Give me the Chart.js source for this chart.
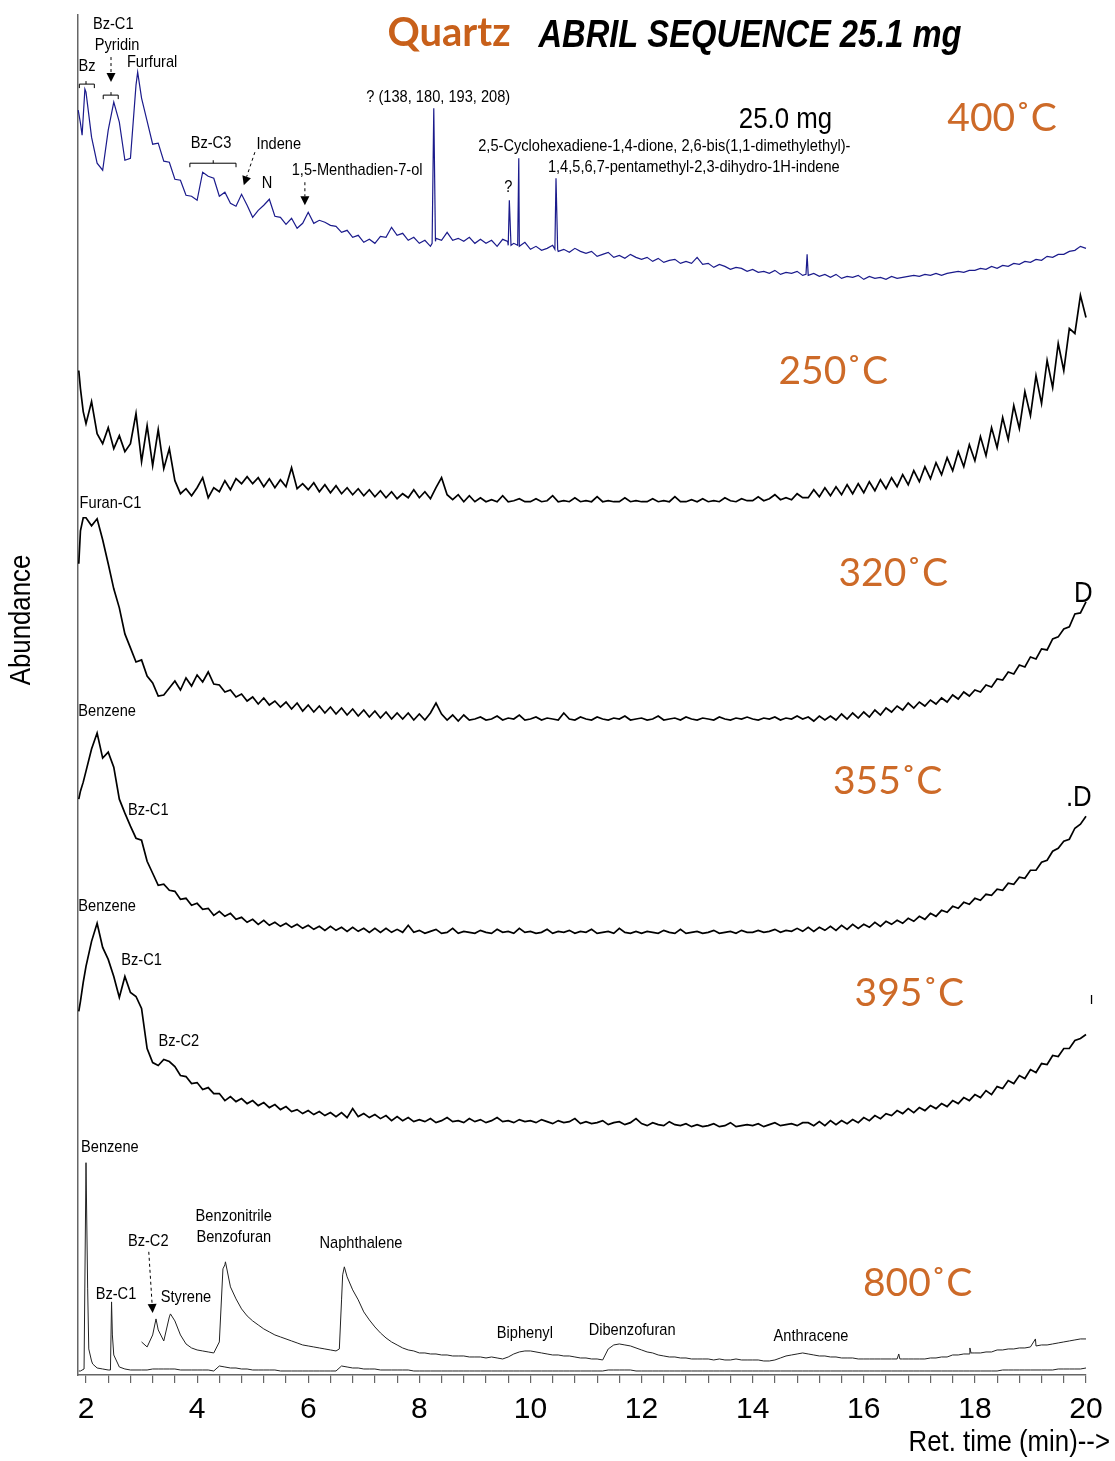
<!DOCTYPE html>
<html>
<head>
<meta charset="utf-8">
<script src="https://cdn.jsdelivr.net/npm/chart.js@4.4.1/dist/chart.umd.min.js"></script>
<style>
  html, body { margin: 0; padding: 0; background: #fff; }
  #wrap { position: relative; width: 1115px; height: 1461px; }
</style>
</head>
<body>
<div id="wrap"><canvas id="chart" width="1115" height="1461"></canvas></div>
<script>
// --- Data (retention time in min, abundance in arbitrary stacked units) ---
const retTime = [
  2.0, 2.1, 2.2, 2.3, 2.4, 2.5, 2.6, 2.7, 2.8, 2.9,
  3.0, 3.1, 3.2, 3.3, 3.4, 3.5, 3.6, 3.7, 3.8, 3.9,
  4.0, 4.1, 4.2, 4.3, 4.4, 4.5, 4.6, 4.7, 4.8, 4.9,
  5.0, 5.1, 5.2, 5.3, 5.4, 5.5, 5.6, 5.7, 5.8, 5.9,
  6.0, 6.1, 6.2, 6.3, 6.4, 6.5, 6.6, 6.7, 6.8, 6.9,
  7.0, 7.1, 7.2, 7.3, 7.4, 7.5, 7.6, 7.7, 7.8, 7.9,
  8.0, 8.1, 8.2, 8.3, 8.4, 8.5, 8.6, 8.7, 8.8, 8.9,
  9.0, 9.1, 9.2, 9.3, 9.4, 9.5, 9.6, 9.7, 9.8, 9.9,
  10.0, 10.1, 10.2, 10.3, 10.4, 10.5, 10.6, 10.7, 10.8, 10.9,
  11.0, 11.1, 11.2, 11.3, 11.4, 11.5, 11.6, 11.7, 11.8, 11.9,
  12.0, 12.1, 12.2, 12.3, 12.4, 12.5, 12.6, 12.7, 12.8, 12.9,
  13.0, 13.1, 13.2, 13.3, 13.4, 13.5, 13.6, 13.7, 13.8, 13.9,
  14.0, 14.1, 14.2, 14.3, 14.4, 14.5, 14.6, 14.7, 14.8, 14.9,
  15.0, 15.1, 15.2, 15.3, 15.4, 15.5, 15.6, 15.7, 15.8, 15.9,
  16.0, 16.1, 16.2, 16.3, 16.4, 16.5, 16.6, 16.7, 16.8, 16.9,
  17.0, 17.1, 17.2, 17.3, 17.4, 17.5, 17.6, 17.7, 17.8, 17.9,
  18.0, 18.1, 18.2, 18.3, 18.4, 18.5, 18.6, 18.7, 18.8, 18.9,
  19.0, 19.1, 19.2, 19.3, 19.4, 19.5, 19.6, 19.7, 19.8, 19.9,
  20.0
];

// 400 C run (blue)
const abund400 = [
  1281, 1236, 1210, 1203, 1243, 1271, 1251, 1213, 1215, 1288,
  1275, 1252, 1229, 1230, 1212, 1211, 1194, 1193, 1178, 1177,
  1173, 1201, 1197, 1195, 1177, 1181, 1170, 1167, 1179, 1168,
  1156, 1163, 1168, 1174, 1157, 1156, 1149, 1155, 1145, 1150,
  1161, 1150, 1153, 1151, 1148, 1147, 1141, 1143, 1136, 1138,
  1131, 1134, 1130, 1137, 1136, 1146, 1138, 1140, 1133, 1136,
  1130, 1133, 1127, 1135, 1133, 1141, 1133, 1135, 1132, 1136,
  1130, 1134, 1130, 1133, 1127, 1134, 1128, 1130, 1127, 1131,
  1124, 1127, 1123, 1125, 1128, 1122, 1124, 1121, 1125, 1122,
  1120, 1122, 1117, 1119, 1121, 1116, 1118, 1115, 1119, 1116,
  1114, 1116, 1112, 1115, 1111, 1113, 1114, 1110, 1112, 1110,
  1116, 1109, 1110, 1106, 1109, 1107, 1104, 1106, 1105, 1102,
  1104, 1101, 1102, 1100, 1103, 1099, 1101, 1100, 1102, 1098,
  1098, 1100, 1097, 1099, 1096, 1099, 1095, 1097, 1096, 1098,
  1094, 1097, 1095, 1096, 1094, 1097, 1095, 1096, 1097, 1098,
  1097, 1099, 1098, 1100, 1098, 1100, 1101, 1102, 1101, 1103,
  1103, 1105, 1104, 1107, 1105, 1108, 1107, 1110, 1109, 1112,
  1111, 1114, 1113, 1117, 1116, 1119, 1119, 1122, 1123, 1127,
  1125
];
const peaks400 = [
  [1.86, 1263], [1.9, 1250], [1.93, 1238], [1.98, 1284], [2.93, 1301],
  [8.23, 1130], [8.26, 1265], [8.29, 1132],
  [9.59, 1132], [9.62, 1173], [9.65, 1128],
  [9.77, 1128], [9.79, 1215],
  [10.44, 1124], [10.46, 1195], [10.49, 1124],
  [14.96, 1099], [14.98, 1119]
];

// 250 C run
const abund250 = [
  950, 972, 940, 930, 946, 925, 938, 922, 930, 960,
  912, 948, 908, 944, 905, 925, 893, 880, 885, 878,
  886, 896, 876, 886, 882, 893, 884, 895, 890, 897,
  890, 896, 887, 895, 886, 894, 887, 906, 885, 890,
  884, 891, 882, 889, 881, 888, 880, 886, 879, 885,
  878, 884, 877, 883, 876, 882, 875, 880, 876, 884,
  876, 882, 875, 886, 896, 879, 874, 879, 872, 878,
  872, 876, 872, 874, 872, 878, 872, 873, 875, 872,
  872, 875, 872, 873, 878, 872, 873, 872, 876, 872,
  873, 872, 877, 872, 873, 872, 872, 876, 872, 873,
  872, 872, 875, 872, 873, 872, 877, 872, 872, 874,
  872, 875, 872, 873, 872, 876, 873, 872, 875, 873,
  873, 877, 873, 875, 879, 874, 876, 874, 880, 876,
  876, 884, 877, 886, 878, 887, 879, 889, 880, 890,
  881, 892, 883, 894, 885, 896, 887, 899, 889, 903,
  892, 907, 895, 911, 899, 916, 903, 922, 907, 929,
  913, 937, 918, 946, 926, 956, 934, 968, 945, 982,
  958, 998, 970, 1013, 986, 1030, 1003, 1045, 1040, 1078,
  1056
];
const peaks250 = [[1.87, 1003], [1.9, 985], [1.95, 962]];

// 320 C run
const abund320 = [
  856, 848, 855, 834, 810, 785, 766, 740, 726, 712,
  714, 698, 691, 678, 679, 686, 693, 684, 696, 688,
  699, 692, 702, 690, 689, 682, 684, 677, 680, 673,
  677, 670, 676, 669, 673, 667, 672, 665, 671, 663,
  669, 662, 668, 661, 667, 660, 666, 659, 665, 658,
  664, 657, 663, 656, 662, 655, 661, 655, 661, 654,
  660, 654, 661, 671, 660, 654, 659, 653, 659, 654,
  655, 657, 654, 655, 658, 654, 656, 655, 659, 654,
  655, 657, 654, 656, 655, 654, 661, 655, 654, 657,
  655, 654, 657, 655, 654, 656, 655, 658, 654, 655,
  656, 654, 655, 658, 654, 655, 656, 654, 657, 655,
  654, 656, 655, 654, 657, 655, 654, 656, 655, 657,
  655, 654, 656, 655, 657, 654, 656, 655, 658, 655,
  657, 653, 658, 654, 658, 654, 660, 655, 661, 656,
  662, 657, 664, 659, 666, 662, 668, 664, 671, 666,
  672, 668, 674, 670, 676, 672, 679, 675, 682, 678,
  684, 682, 689, 687, 695, 694, 702, 700, 709, 707,
  717, 715, 725, 724, 735, 737, 745, 747, 760, 761,
  772
];
const peaks320 = [[1.87, 810], [1.9, 843], [1.95, 856]];

// 355 C run
const abund355 = [
  603, 625, 641, 616, 622, 607, 575, 561, 548, 536,
  534, 513, 501, 489, 490, 484, 483, 475, 476, 469,
  471, 465, 466, 459, 463, 458, 461, 455, 457, 452,
  455, 450, 454, 449, 452, 448, 451, 447, 450, 446,
  449, 445, 448, 444, 448, 444, 447, 443, 447, 443,
  446, 442, 446, 442, 446, 442, 445, 442, 449, 442,
  444, 441, 443, 445, 441, 442, 446, 441, 443, 442,
  441, 444, 442, 441, 445, 442, 443, 441, 446, 442,
  443, 441, 442, 445, 441, 443, 442, 444, 441, 443,
  442, 445, 441, 442, 443, 441, 446, 442, 441, 443,
  441, 443, 442, 441, 444, 442, 441, 445, 441, 442,
  443, 441, 442, 444, 441, 442, 443, 441, 444, 442,
  442, 444, 442, 443, 445, 442, 444, 443, 446, 443,
  447, 443, 447, 444, 448, 444, 449, 445, 450, 446,
  450, 447, 452, 448, 453, 450, 454, 451, 456, 453,
  458, 455, 461, 458, 464, 462, 468, 466, 472, 470,
  476, 474, 480, 479, 485, 484, 491, 490, 497, 496,
  504, 504, 512, 514, 523, 526, 533, 535, 546, 550,
  558
];
const peaks355 = [[1.87, 575], [1.9, 583], [1.95, 592]];

// 395 C run
const abund395 = [
  408, 433, 451, 427, 415, 398, 377, 398, 382, 378,
  366, 326, 312, 309, 315, 313, 308, 299, 298, 291,
  292, 285, 287, 281, 281, 274, 278, 273, 276, 271,
  274, 269, 272, 267, 270, 265, 268, 263, 265, 261,
  264, 260, 263, 259, 262, 258, 262, 257, 266, 258,
  261, 257, 260, 256, 259, 254, 258, 254, 257, 253,
  255, 253, 256, 252, 254, 257, 253, 254, 252, 256,
  253, 255, 252, 254, 257, 253, 254, 252, 255, 253,
  254, 252, 255, 253, 251, 254, 252, 253, 256, 251,
  253, 251, 252, 254, 250, 252, 253, 250, 252, 256,
  251, 249, 252, 250, 249, 253, 250, 249, 251, 248,
  250, 248, 249, 251, 248, 249, 252, 248, 249, 250,
  249, 251, 248, 250, 252, 249, 250, 251, 249, 252,
  252, 249, 253, 249, 254, 250, 254, 251, 255, 252,
  257, 254, 259, 256, 261, 259, 264, 261, 266, 262,
  267, 264, 269, 266, 271, 268, 274, 271, 277, 274,
  280, 277, 284, 280, 288, 286, 294, 291, 299, 296,
  305, 302, 311, 310, 319, 318, 326, 326, 334, 336,
  340
];
const peaks395 = [[1.87, 363], [1.9, 373], [1.95, 392]];

// 800 C run, full scale
const abund800 = [
  212, 14, 7, 6, 5, 20, 8, 6, 5, 5,
  5, 5, 6, 6, 6, 6, 6, 5, 5, 5,
  5, 5, 5, 4, 9, 8, 7, 7, 6, 6,
  5, 5, 5, 5, 5, 4, 4, 4, 4, 4,
  4, 4, 4, 4, 4, 4, 9, 8, 7, 7,
  6, 6, 6, 5, 5, 5, 5, 5, 5, 4,
  4, 4, 4, 4, 4, 4, 4, 4, 4, 4,
  4, 4, 4, 4, 4, 4, 4, 4, 4, 4,
  4, 4, 4, 4, 4, 4, 4, 4, 4, 4,
  4, 4, 4, 4, 5, 5, 5, 5, 5, 4,
  4, 4, 4, 4, 4, 4, 4, 4, 4, 4,
  4, 4, 4, 4, 4, 4, 4, 4, 4, 4,
  4, 4, 4, 4, 4, 4, 4, 4, 4, 4,
  4, 4, 4, 4, 4, 4, 4, 4, 4, 4,
  4, 4, 4, 4, 4, 4, 4, 4, 4, 4,
  4, 4, 4, 4, 4, 4, 4, 4, 4, 4,
  4, 4, 4, 4, 4, 5, 5, 5, 5, 5,
  5, 5, 5, 5, 5, 6, 6, 6, 6, 6,
  7
];
const peaks800 = [
  [1.87, 4], [1.9, 4], [1.965, 6], [2.03, 86], [2.05, 26], [2.12, 11],
  [2.44, 5], [2.46, 73], [2.475, 40]
];

// 800 C run, magnified trace (starts at 3 min)
const abund800zoom = [
  null, null, null, null, null, null, null, null, null, null,
  33, 28, 40, 45, 34, 58, 54, 40, 31, 27,
  25, 24, 23, 22, 33, 110, 88, 76, 66, 59,
  54, 50, 46, 43, 40, 38, 36, 34, 32, 30,
  29, 28, 27, 26, 25, 24, 75, 98, 85, 75,
  63, 55, 48, 42, 37, 33, 30, 27, 25, 24,
  22, 22, 21, 21, 20, 20, 19, 19, 19, 18,
  18, 18, 17, 18, 17, 16, 18, 21, 23, 24,
  24, 23, 22, 21, 20, 20, 19, 19, 18, 17,
  17, 16, 16, 15, 26, 30, 31, 30, 29, 27,
  25, 23, 22, 20, 19, 18, 18, 17, 17, 16,
  16, 16, 16, 15, 16, 15, 15, 16, 15, 15,
  15, 15, 14, 14, 15, 17, 19, 20, 21, 22,
  21, 20, 19, 19, 18, 18, 17, 17, 17, 16,
  16, 16, 16, 16, 16, 16, 16, 16, 16, 16,
  16, 16, 17, 17, 18, 18, 20, 20, 21, 21,
  22, 22, 23, 23, 25, 25, 26, 26, 27, 27,
  28, 29, 30, 30, 31, 32, 33, 34, 35, 36,
  36
];
const peaks800zoom = [
  [3.26, 56], [3.52, 61], [4.465, 106], [4.51, 113],
  [6.56, 26], [6.62, 100], [6.65, 108],
  [16.63, 21], [16.65, 16], [17.91, 27], [17.93, 22], [19.09, 36]
];

const majorTicks = [2, 4, 6, 8, 10, 12, 14, 16, 18, 20];
const minorStep = 0.4;

// peak names and run labels: [text, time, abundance, style]
const peakLabels = [
  ['Bz-C1', 2.49, 1349, 'small'], ['Pyridin', 2.56, 1328, 'small'], ['Bz', 2.02, 1307, 'small'],
  ['Furfural', 3.19, 1311, 'small'], ['Bz-C3', 4.25, 1230, 'small'], ['Indene', 5.47, 1229, 'small'],
  ['N', 5.26, 1190, 'small'], ['1,5-Menthadien-7-ol', 6.88, 1203, 'small'],
  ['? (138, 180, 193, 208)', 8.34, 1276, 'small'], ['?', 9.6, 1186, 'small'],
  ['2,5-Cyclohexadiene-1,4-dione, 2,6-bis(1,1-dimethylethyl)-', 12.41, 1227, 'small'],
  ['1,4,5,6,7-pentamethyl-2,3-dihydro-1H-indene', 12.94, 1206, 'small'],
  ['25.0 mg', 14.59, 1253, 'mass'], ['400˚C', 18.49, 1255, 'temp'],
  ['Furan-C1', 2.44, 870, 'small'], ['250˚C', 15.45, 1002, 'temp'],
  ['320˚C', 16.53, 800, 'temp'], ['D', 19.95, 780, 'mass'],
  ['Benzene', 2.38, 663, 'small'], ['Bz-C1', 3.12, 564, 'small'],
  ['355˚C', 16.43, 593, 'temp'], ['.D', 19.87, 576, 'mass'],
  ['Benzene', 2.38, 468, 'small'], ['Bz-C1', 3.0, 414, 'small'], ['Bz-C2', 3.67, 333, 'small'],
  ['395˚C', 16.82, 381, 'temp'], ['ı', 20.1, 375, 'small'],
  ['Benzene', 2.43, 227, 'small'], ['Bz-C1', 2.54, 81, 'small'], ['Bz-C2', 3.12, 133, 'small'],
  ['Styrene', 3.8, 78, 'small'], ['Benzonitrile', 4.66, 158, 'small'], ['Benzofuran', 4.66, 137, 'small'],
  ['Naphthalene', 6.95, 131, 'small'], ['Biphenyl', 9.9, 42, 'small'],
  ['Dibenzofuran', 11.83, 45, 'small'], ['Anthracene', 15.05, 39, 'small'],
  ['800˚C', 16.97, 91, 'temp']
];
// dashed pointers [t1, y1, t2 (tip), y2 (tip)]
const pointers = [
  [2.45, 1316, 2.45, 1291], [5.04, 1221, 4.84, 1188],
  [5.94, 1191, 5.94, 1168], [3.13, 123, 3.2, 62]
];
// brackets grouping peaks [tStart, tEnd, tCenter, y]
const brackets = [
  [1.88, 2.15, 2.0, 1289], [2.31, 2.58, 2.45, 1278], [3.87, 4.70, 4.29, 1210]
];

// --- helpers ---
const SANS = "'Liberation Sans', Arial, sans-serif";
const SQUEEZE = 0.86; // the original lettering is a narrow face
const ORANGE = '#cd6a28';
const STYLES = {
  small: { font: `17px ${SANS}`, color: '#000', squeeze: SQUEEZE },
  mass: { font: `30px ${SANS}`, color: '#000', squeeze: SQUEEZE },
  temp: { font: `39px Lato, 'Noto Sans', sans-serif`, color: ORANGE, squeeze: 1 }
};

function series(vals, extra) {
  const pts = [];
  retTime.forEach((t, i) => { if (vals[i] !== null) pts.push({ x: t, y: vals[i] }); });
  extra.forEach(([x, y]) => pts.push({ x, y }));
  return pts.sort((a, b) => a.x - b.x);
}

function line(data, color, width) {
  return { data, borderColor: color, borderWidth: width, pointRadius: 0, tension: 0, fill: false, clip: false, spanGaps: false };
}

function text(ctx, str, x, y, font, color, align, squeeze, rot = 0) {
  ctx.save();
  ctx.translate(x, y);
  if (rot) ctx.rotate(rot);
  ctx.scale(squeeze, 1);
  ctx.font = font;
  ctx.fillStyle = color;
  ctx.textAlign = align;
  ctx.textBaseline = 'middle';
  ctx.fillText(str, 0, 0);
  ctx.restore();
}

const minorTicks = [];
for (let v = majorTicks[0]; v <= majorTicks[majorTicks.length - 1] + 1e-9; v += minorStep) {
  minorTicks.push(Math.round(v * 10) / 10);
}

const annotate = {
  id: 'annotate',
  afterDraw(chart) {
    const { ctx, scales: { x, y } } = chart;
    const px = t => x.getPixelForValue(t);
    const py = v => y.getPixelForValue(v);
    ctx.save();

    // brackets
    ctx.strokeStyle = '#000';
    ctx.lineWidth = 1;
    brackets.forEach(([t1, t2, tc, v]) => {
      const a = px(t1), b = px(t2), c = px(tc), h = py(v);
      ctx.beginPath();
      ctx.moveTo(a, h + 4); ctx.lineTo(a, h); ctx.lineTo(b, h); ctx.lineTo(b, h + 4);
      ctx.moveTo(c, h); ctx.lineTo(c, h - 3);
      ctx.stroke();
    });

    // dashed pointers with arrow heads
    pointers.forEach(([t1, v1, t2, v2]) => {
      const x1 = px(t1), y1 = py(v1), x2 = px(t2), y2 = py(v2);
      const ang = Math.atan2(y2 - y1, x2 - x1);
      const hx = x2 - 9 * Math.cos(ang), hy = y2 - 9 * Math.sin(ang);
      ctx.setLineDash([3, 3]);
      ctx.beginPath(); ctx.moveTo(x1, y1); ctx.lineTo(hx, hy); ctx.stroke();
      ctx.setLineDash([]);
      ctx.beginPath();
      ctx.moveTo(x2, y2);
      ctx.lineTo(hx + 4.5 * Math.sin(ang), hy - 4.5 * Math.cos(ang));
      ctx.lineTo(hx - 4.5 * Math.sin(ang), hy + 4.5 * Math.cos(ang));
      ctx.closePath();
      ctx.fillStyle = '#000';
      ctx.fill();
    });
    ctx.restore();

    // peak and run labels
    peakLabels.forEach(([str, t, v, style]) => {
      const s = STYLES[style];
      text(ctx, str, px(t), py(v), s.font, s.color, 'center', s.squeeze);
    });

    // headline
    text(ctx, 'Quartz', 449, 33, `bold 40px Lato, 'Open Sans', sans-serif`, '#c8601a', 'center', 1);
    text(ctx, 'ABRIL SEQUENCE 25.1 mg', 750, 37, `italic bold 38px ${SANS}`, '#000', 'center', SQUEEZE);

    // axis titles
    text(ctx, 'Ret. time (min)-->', 1110, 1443, `30px ${SANS}`, '#000', 'right', SQUEEZE);
    text(ctx, 'Abundance', 22, 620, `30px ${SANS}`, '#000', 'center', SQUEEZE, -Math.PI / 2);
  }
};

new Chart(document.getElementById('chart'), {
  type: 'line',
  data: {
    datasets: [
      line(series(abund400, peaks400), '#1b1b8c', 1.2),
      line(series(abund250, peaks250), '#000', 1.7),
      line(series(abund320, peaks320), '#000', 1.7),
      line(series(abund355, peaks355), '#000', 1.7),
      line(series(abund395, peaks395), '#000', 1.7),
      line(series(abund800zoom, peaks800zoom), '#222', 1),
      line(series(abund800, peaks800), '#222', 1)
    ]
  },
  options: {
    responsive: false,
    animation: false,
    layout: { padding: { left: 78, right: 29, top: 15, bottom: 24 } },
    plugins: { legend: { display: false }, tooltip: { enabled: false } },
    scales: {
      x: {
        type: 'linear',
        min: 1.856,
        max: 20,
        afterBuildTicks: s => { s.ticks = minorTicks.map(v => ({ value: v })); },
        ticks: {
          autoSkip: false, maxRotation: 0, padding: 9, color: '#000',
          font: { family: SANS, size: 30 },
          callback: v => majorTicks.includes(v) ? String(v) : ''
        },
        grid: { drawOnChartArea: false, drawTicks: true, tickLength: 8, color: '#666', lineWidth: 1.2 },
        border: { display: true, color: '#666', width: 1.5 }
      },
      y: {
        min: 0,
        max: 1358,
        ticks: { display: false },
        grid: { display: true, drawOnChartArea: false, drawTicks: false },
        border: { display: true, color: '#666', width: 1.5 }
      }
    }
  },
  plugins: [annotate]
});
</script>
</body>
</html>
